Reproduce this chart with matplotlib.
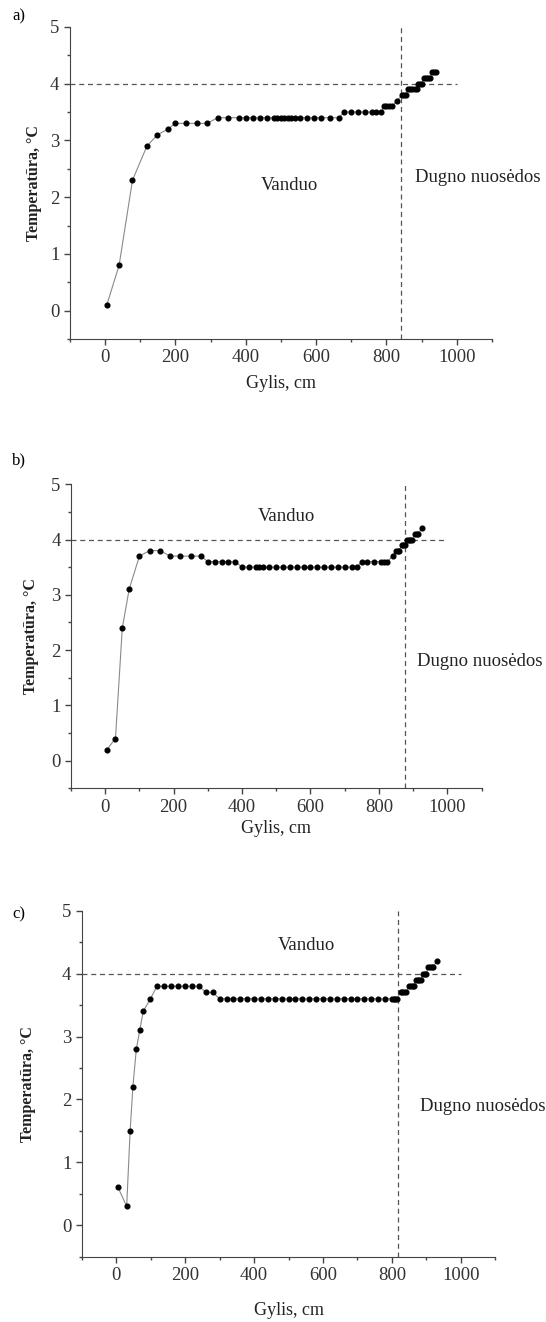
import matplotlib
matplotlib.use("Agg")
import matplotlib.pyplot as plt
from matplotlib.ticker import MultipleLocator

plt.rcParams['font.family'] = ['Liberation Serif', 'DejaVu Serif']
plt.rcParams['font.size'] = 13

# a) profile
a_depth = [5, 40, 78, 119, 149, 179,
           200, 230, 260, 290,
           320, 350, 380, 400, 420, 440, 460, 480, 490, 500, 510, 520, 530, 540,
           555, 575, 595, 615, 640, 665,
           680, 700, 720, 740, 760, 770, 785,
           792, 800, 808, 816,
           830,
           845, 850, 855,
           862, 868, 874, 880, 886,
           890, 895, 900,
           906, 912, 918, 924,
           930, 936, 942]
a_temp = [0.1, 0.8, 2.3, 2.9, 3.1, 3.2,
          3.3, 3.3, 3.3, 3.3,
          3.4, 3.4, 3.4, 3.4, 3.4, 3.4, 3.4, 3.4, 3.4, 3.4, 3.4, 3.4, 3.4, 3.4,
          3.4, 3.4, 3.4, 3.4, 3.4, 3.4,
          3.5, 3.5, 3.5, 3.5, 3.5, 3.5, 3.5,
          3.6, 3.6, 3.6, 3.6,
          3.7,
          3.8, 3.8, 3.8,
          3.9, 3.9, 3.9, 3.9, 3.9,
          4.0, 4.0, 4.0,
          4.1, 4.1, 4.1, 4.1,
          4.2, 4.2, 4.2]
a_boundary = 840

# b) profile
b_depth = [5, 30, 50, 70, 100, 130, 160,
           190, 220, 250, 280,
           300, 320, 340, 360, 380,
           400, 420, 440, 450, 460, 480, 500, 520, 540, 560, 580, 600, 620,
           640, 660, 680, 700, 720, 735,
           750, 765, 785, 805, 815, 825,
           840,
           850, 855, 860,
           866, 871, 876,
           882, 887, 892, 897,
           905, 910, 915,
           925]
b_temp = [0.2, 0.4, 2.4, 3.1, 3.7, 3.8, 3.8,
          3.7, 3.7, 3.7, 3.7,
          3.6, 3.6, 3.6, 3.6, 3.6,
          3.5, 3.5, 3.5, 3.5, 3.5, 3.5, 3.5, 3.5, 3.5, 3.5, 3.5, 3.5, 3.5,
          3.5, 3.5, 3.5, 3.5, 3.5, 3.5,
          3.6, 3.6, 3.6, 3.6, 3.6, 3.6,
          3.7,
          3.8, 3.8, 3.8,
          3.9, 3.9, 3.9,
          4.0, 4.0, 4.0, 4.0,
          4.1, 4.1, 4.1,
          4.2]
b_boundary = 877

# c) profile
c_depth = [5, 30, 40, 48, 58, 68, 78, 99,
           118, 139, 160, 180, 200, 220, 240,
           260, 280,
           300, 320, 340, 360, 380, 400, 420, 440, 460, 480, 500, 520, 540,
           560, 580, 600, 620, 640, 660, 680, 700, 720, 740, 760, 780, 800,
           805, 810, 815,
           825, 830, 835, 840,
           850, 855, 860, 865,
           870, 875, 880, 885,
           890, 895, 900,
           905, 910, 915, 920,
           930]
c_temp = [0.6, 0.3, 1.5, 2.2, 2.8, 3.1, 3.4, 3.6,
          3.8, 3.8, 3.8, 3.8, 3.8, 3.8, 3.8,
          3.7, 3.7,
          3.6, 3.6, 3.6, 3.6, 3.6, 3.6, 3.6, 3.6, 3.6, 3.6, 3.6, 3.6, 3.6,
          3.6, 3.6, 3.6, 3.6, 3.6, 3.6, 3.6, 3.6, 3.6, 3.6, 3.6, 3.6, 3.6,
          3.6, 3.6, 3.6,
          3.7, 3.7, 3.7, 3.7,
          3.8, 3.8, 3.8, 3.8,
          3.9, 3.9, 3.9, 3.9,
          4.0, 4.0, 4.0,
          4.1, 4.1, 4.1, 4.1,
          4.2]
c_boundary = 818

xlabel = "Gylis, cm"
ylabel = "Temperatūra, °C"
water = "Vanduo"
sediment = "Dugno nuosėdos"


def draw_panel(ax, depth, temp, boundary, water_xy, sed_xy, xpad, ypad):
    ax.plot(depth, temp, '-', color='#8a8a8a', lw=0.8, zorder=2)
    ax.plot(depth, temp, 'o', color='black', ms=3.4, zorder=3)
    ax.plot([-100, 1000], [4, 4], '--', color='#555555', lw=0.9, dashes=(4, 3))
    ax.plot([boundary, boundary], [-0.5, 5], '--', color='#555555', lw=0.9, dashes=(4, 3))
    ax.set_xlim(-100, 1100)
    ax.set_ylim(-0.5, 5)
    ax.spines['top'].set_visible(False)
    ax.spines['right'].set_visible(False)
    ax.spines['left'].set_color('#444444')
    ax.spines['bottom'].set_color('#444444')
    ax.xaxis.set_major_locator(MultipleLocator(200))
    ax.xaxis.set_minor_locator(MultipleLocator(100))
    ax.yaxis.set_major_locator(MultipleLocator(1))
    ax.yaxis.set_minor_locator(MultipleLocator(0.5))
    ax.tick_params(which='major', direction='out', length=4, width=1, labelsize=13.5,
                   color='#444444', labelcolor='#333333')
    ax.tick_params(which='minor', direction='out', length=2.5, width=1, color='#444444')
    ax.set_yticks([0, 1, 2, 3, 4, 5])
    ax.set_xticks([0, 200, 400, 600, 800, 1000])
    ax.set_xlabel(xlabel, fontsize=13, labelpad=xpad, color='#222222')
    ax.set_ylabel(ylabel, fontsize=11.5, fontweight='bold', labelpad=ypad, color='#222222')
    ax.text(water_xy[0], water_xy[1], water, ha='center', va='center', fontsize=13.5,
            color='#222222')
    ax.text(sed_xy[0], sed_xy[1], sediment, ha='left', va='center', fontsize=13.5,
            color='#222222', clip_on=False)


fig = plt.figure(figsize=(5.46, 13.22), dpi=100)
ax_a = fig.add_axes([0.128, 0.7436, 0.773, 0.236])
ax_b = fig.add_axes([0.130, 0.4037, 0.752, 0.230])
ax_c = fig.add_axes([0.150, 0.0494, 0.757, 0.2617])

draw_panel(ax_a, a_depth, a_temp, a_boundary, (525, 2.2), (880, 2.35), 6, 6)
draw_panel(ax_b, b_depth, b_temp, b_boundary, (531, 4.42), (912, 1.79), 3, 9)
draw_panel(ax_c, c_depth, c_temp, c_boundary, (551, 4.45), (883, 1.89), 13, 19)

for letter, ypix in [('a)', 16), ('b)', 460), ('c)', 914)]:
    fig.text(12 / 546, 1 - ypix / 1322, letter, fontsize=12, va='center', ha='left')

fig.savefig("out.png", dpi=100)
